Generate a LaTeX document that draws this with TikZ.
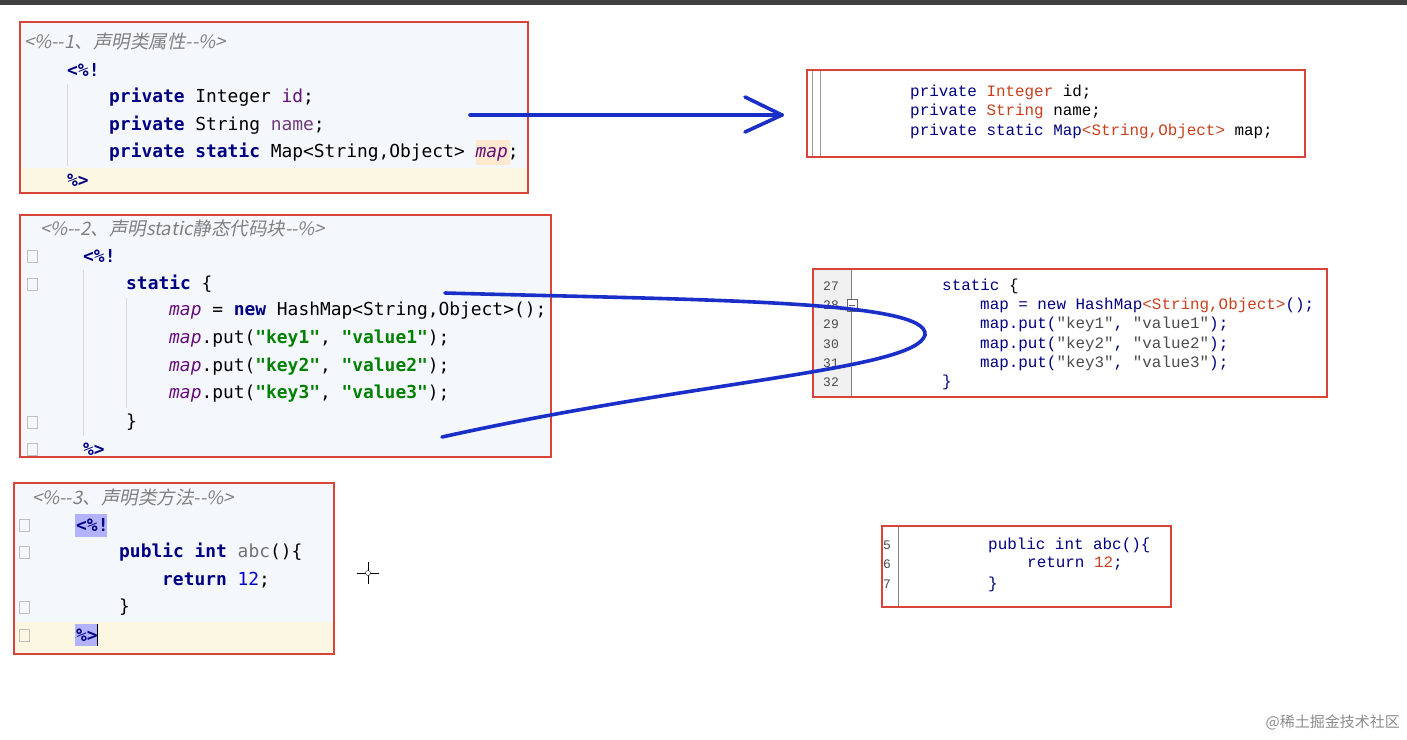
\documentclass[tikz,border=0pt]{standalone}
\usepackage{fontspec}
\newfontfamily\lc{DejaVu Sans Mono}
\newfontfamily\rc{Liberation Mono}
\newfontfamily\cmt{Noto Sans CJK SC}[FakeSlant=0.2]
\newfontfamily\wm{Noto Sans CJK SC}
\definecolor{kw}{HTML}{000080}
\definecolor{st}{HTML}{008000}
\definecolor{pu}{HTML}{660E7A}
\definecolor{rt}{HTML}{C8401E}
\definecolor{bx}{HTML}{D9443A}
\definecolor{bg}{HTML}{F4F8FD}
\definecolor{yl}{HTML}{FCF7E3}
\definecolor{pen}{HTML}{1A2FC8}
\begin{document}
\begin{tikzpicture}[x=1pt,y=-1pt,
  L/.style={anchor=west,inner sep=0,font=\lc\fontsize{17.9}{20}\selectfont},
  R/.style={anchor=west,inner sep=0,font=\rc\fontsize{15.9}{18}\selectfont},
  C/.style={anchor=west,inner sep=0,text=gray,font=\cmt\fontsize{18.5}{20}\selectfont},
  N/.style={anchor=west,inner sep=0,text=black!70,font=\rc\fontsize{13}{15}\selectfont},
  box/.style={draw=bx,line width=1.2pt},
  pen/.style={draw=pen,line width=3.6pt}]
\useasboundingbox (0,0) rectangle (1407,739);
\fill[white] (0,0) rectangle (1407,739);
\fill[black!75] (0,0) rectangle (1407,5);
% box 1
\fill[bg] (20,22) rectangle (528,193);
\fill[yl] (20,168) rectangle (528,193);
\fill[yl!60!orange!40] (476,140) rectangle (510,165);
\draw[black!15] (67,84) -- (67,166);
\draw[box] (20,22) rectangle (528,193);
\node[C] (a0) at (24,42) {<\%--1、声明类属性--\%>};
\node[L] (a1) at (67,70) {\textbf{\color{kw}<\%!}};
\node[L] (a2) at (109,97) {\textbf{\color{kw}private} Integer \textcolor{pu}{id};};
\node[L] (a3) at (109,125) {\textbf{\color{kw}private} String \textcolor{pu!60!gray}{name};};
\node[L] (a4) at (109,152) {\textbf{\color{kw}private static} Map<String,Object> \textcolor{pu}{\itshape map};};
\node[L] (a5) at (67,180) {\textbf{\color{kw}\%>}};
% box 2
\fill[bg] (20,215) rectangle (551,457);
\draw[black!15] (83,270) -- (83,436) (126,298) -- (126,408);
\foreach \y in {256,284,422,449} \draw[black!25] (27,\y-6) rectangle (37,\y+6);
\draw[box] (20,215) rectangle (551,457);
\node[C] (b0) at (40,228) {<\%--2、声明static静态代码块--\%>};
\node[L] (b1) at (83,256) {\textbf{\color{kw}<\%!}};
\node[L] (b2) at (126,284) {\textbf{\color{kw}static} \{};
\node[L] (b3) at (169,311) {\textcolor{pu}{\itshape map} = \textbf{\color{kw}new} HashMap<String,Object>();};
\node[L] (b4) at (169,339) {\textcolor{pu}{\itshape map}.put(\textbf{\color{st}"key1"}, \textbf{\color{st}"value1"});};
\node[L] (b5) at (169,367) {\textcolor{pu}{\itshape map}.put(\textbf{\color{st}"key2"}, \textbf{\color{st}"value2"});};
\node[L] (b6) at (169,394) {\textcolor{pu}{\itshape map}.put(\textbf{\color{st}"key3"}, \textbf{\color{st}"value3"});};
\node[L] (b7) at (126,422) {\}};
\node[L] (b8) at (83,449) {\textbf{\color{kw}\%>}};
% box 3
\fill[bg] (14,483) rectangle (334,654);
\fill[yl] (14,622) rectangle (334,654);
\fill[blue!30] (75,514) rectangle (107,537);
\fill[blue!30] (75,624) rectangle (97,646);
\draw[black] (97,624) -- (97,646);
\foreach \y in {525,552,607,635} \draw[black!25] (19,\y-6) rectangle (29,\y+6);
\draw[box] (14,483) rectangle (334,654);
\node[C] (c0) at (32,497) {<\%--3、声明类方法--\%>};
\node[L] (c1) at (76,525) {\textbf{\color{kw}<\%!}};
\node[L] (c2) at (119,552) {\textbf{\color{kw}public int} \textcolor{black!55}{abc}()\{};
\node[L] (c3) at (162,580) {\textbf{\color{kw}return} \textcolor{blue!80!black}{12};};
\node[L] (c4) at (119,607) {\}};
\node[L] (c5) at (76,635) {\textbf{\color{kw}\%>}};
\draw[black] (368,562) -- (368,584) (357,573) -- (379,573);
\draw[black,fill=white] (368,573) circle (2.5);
% right box 1
\draw[black!40] (812,70) -- (812,157) (820,70) -- (820,157);
\draw[box] (807,70) rectangle (1305,157);
\node[R] (d1) at (910,92) {\color{kw}private \color{rt}Integer \color{black}id;};
\node[R] (d2) at (910,111) {\color{kw}private \color{rt}String \color{black}name;};
\node[R] (d3) at (910,131) {\color{kw}private static \color{kw}Map\color{rt}<String,Object> \color{black}map;};
% right box 2
\fill[black!6] (813,269) rectangle (851,397);
\draw[black!50] (851,269) -- (851,397);
\draw[black!60,fill=white] (847,299) rectangle (857,311);
\draw[black!60] (849,305) -- (855,305);
\draw[box] (813,269) rectangle (1327,397);
\foreach \n/\y in {27/286,28/305,29/324,30/344,31/363,32/382} \node[N] (n\n) at (823,\y) {\n};
\node[R] (e1) at (942,286) {\color{kw}static \color{black}\{};
\node[R] (e2) at (980,305) {\color{kw}map = new HashMap\color{rt}<String,Object>\color{kw}();};
\node[R] (e3) at (980,324) {\color{kw}map.put(\color{black!70}"key1"\color{kw}, \color{black!70}"value1"\color{kw});};
\node[R] (e4) at (980,344) {\color{kw}map.put(\color{black!70}"key2"\color{kw}, \color{black!70}"value2"\color{kw});};
\node[R] (e5) at (980,363) {\color{kw}map.put(\color{black!70}"key3"\color{kw}, \color{black!70}"value3"\color{kw});};
\node[R] (e6) at (942,382) {\color{kw}\}};
% right box 3
\draw[black!50] (898,526) -- (898,607);
\draw[box] (882,526) rectangle (1171,607);
\foreach \n/\y in {5/545,6/564,7/584} \node[N] (m\n) at (883,\y) {\n};
\node[R] (f1) at (988,545) {\color{kw}public int abc()\{};
\node[R] (f2) at (1027,564) {\color{kw}return \color{rt}12\color{kw};};
\node[R] (f3) at (988,584) {\color{kw}\}};
% pen strokes
\coordinate (p1) at (470,115);
\coordinate (p2) at (782,115);
\draw[pen,line cap=round,line join=round] (p1) -- (p2);
\draw[pen,line cap=round,line join=round] (745,97) -- (p2) -- (745,132);
\coordinate (q1) at (445,293);
\coordinate (q2) at (925,335);
\coordinate (q3) at (442,437);
\draw[pen,line cap=round] (q1) .. controls (700,300) and (930,300) .. (q2) .. controls (915,370) and (700,380) .. (q3);
\node[anchor=east,inner sep=0,text=black!45,font=\wm\fontsize{15}{17}\selectfont] (w) at (1400,722) {@稀土掘金技术社区};
\end{tikzpicture}
\end{document}
